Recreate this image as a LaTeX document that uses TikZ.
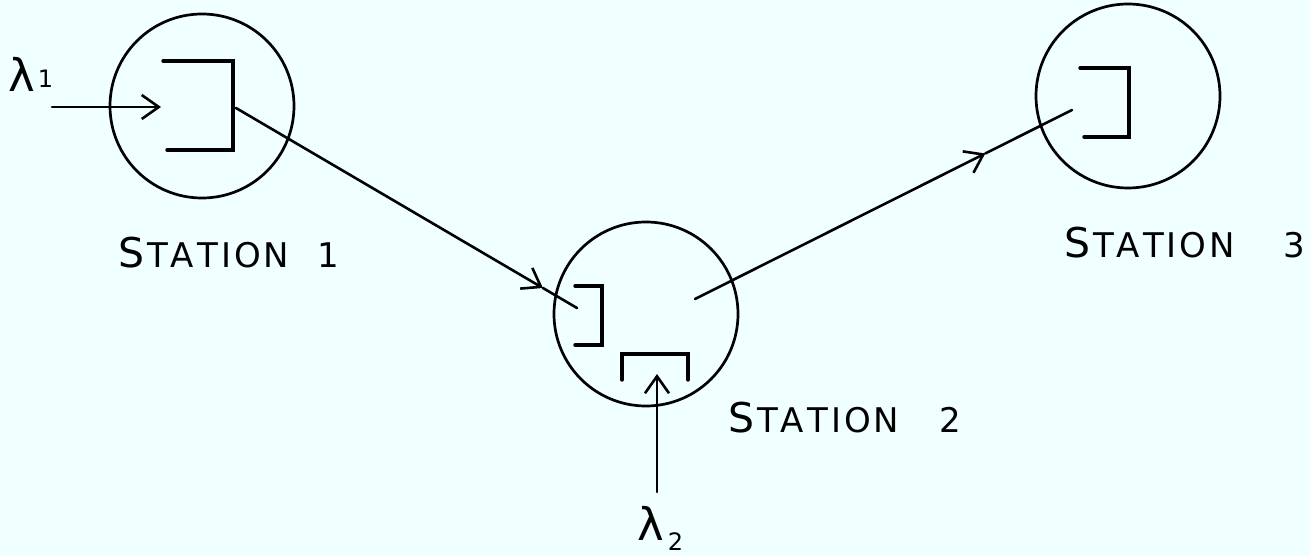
\documentclass[tikz,border=0pt]{standalone}
\usepackage{fontspec}
\newfontfamily\hand{DejaVu Sans}
\usetikzlibrary{arrows.meta,calc}
\definecolor{paper}{RGB}{240,255,255}
\newcommand\lgap{\hspace{3pt}}
\newcommand\stnlabel[2]{{\fontsize{41}{44}\hand S}\lgap{\fontsize{34}{38}\hand T\lgap A\lgap T\lgap I\lgap O\lgap N\hspace{#1}#2}}
\begin{document}
\begin{tikzpicture}[x=1pt,y=-1pt,
  station/.style={circle,draw,line width=2.7pt,minimum size=184pt,inner sep=0pt},
  queue/.style={line width=3.4pt,line cap=round},
  flow/.style={line width=2.6pt,line cap=round},
  barb/.style={-{Straight Barb[length=17pt,width=24pt]}},
  txt/.style={inner sep=0pt}]
\fill[paper] (0,0) rectangle (1310,556);
\useasboundingbox (0,0) rectangle (1310,556);
% stations
\node[station] (s1) at (202,106) {};
\node[station] (s2) at (646,314) {};
\node[station] (s3) at (1128,96) {};
% queues
\draw[queue] (163,61) -- (233,61) -- (233,150) -- (167,150);
\draw[queue] (575,286) -- (602,286) -- (602,345) -- (575,345);
\draw[queue] (622,380) -- (622,354) -- (688,354) -- (688,380);
\draw[queue] (1080,68) -- (1129,68) -- (1129,137) -- (1084,137);
% coordinates
\coordinate (l1start) at (52,107);
\coordinate (l1end) at (161,107);
\coordinate (q1out) at (236,108);
\coordinate (q2in) at (577,308);
\coordinate (q2out) at (695,299);
\coordinate (q3in) at (1072,110);
\coordinate (l2start) at (657,492);
\coordinate (l2end) at (657,374);
\coordinate (m12) at ($(q1out)!0.90!(q2in)$);
\coordinate (m23) at ($(q2out)!0.77!(q3in)$);
% connectors
\draw[flow,barb] (l1start) -- (l1end);
\draw[flow,barb] (q1out) -- (m12);
\draw[flow] (m12) -- (q2in);
\draw[flow,barb] (q2out) -- (m23);
\draw[flow] (m23) -- (q3in);
\draw[flow,barb] (l2start) -- (l2end);
% labels
\node[txt,anchor=base west] (lam1) at (8,92) {{\fontsize{45}{46}\hand λ}\hspace{3pt}\raisebox{4pt}{\fontsize{24}{26}\hand 1}};
\node[txt,anchor=base west] (lam2) at (637,540) {{\fontsize{45}{46}\hand λ}\hspace{4pt}\raisebox{-10pt}{\fontsize{24}{26}\hand 2}};
\node[txt,anchor=base west] (t1) at (118,268) {\stnlabel{28pt}{1}};
\node[txt,anchor=base west] (t2) at (728,432) {\stnlabel{40pt}{2}};
\node[txt,anchor=base east] (t3) at (1305,258) {\stnlabel{48pt}{3}};
\end{tikzpicture}
\end{document}
